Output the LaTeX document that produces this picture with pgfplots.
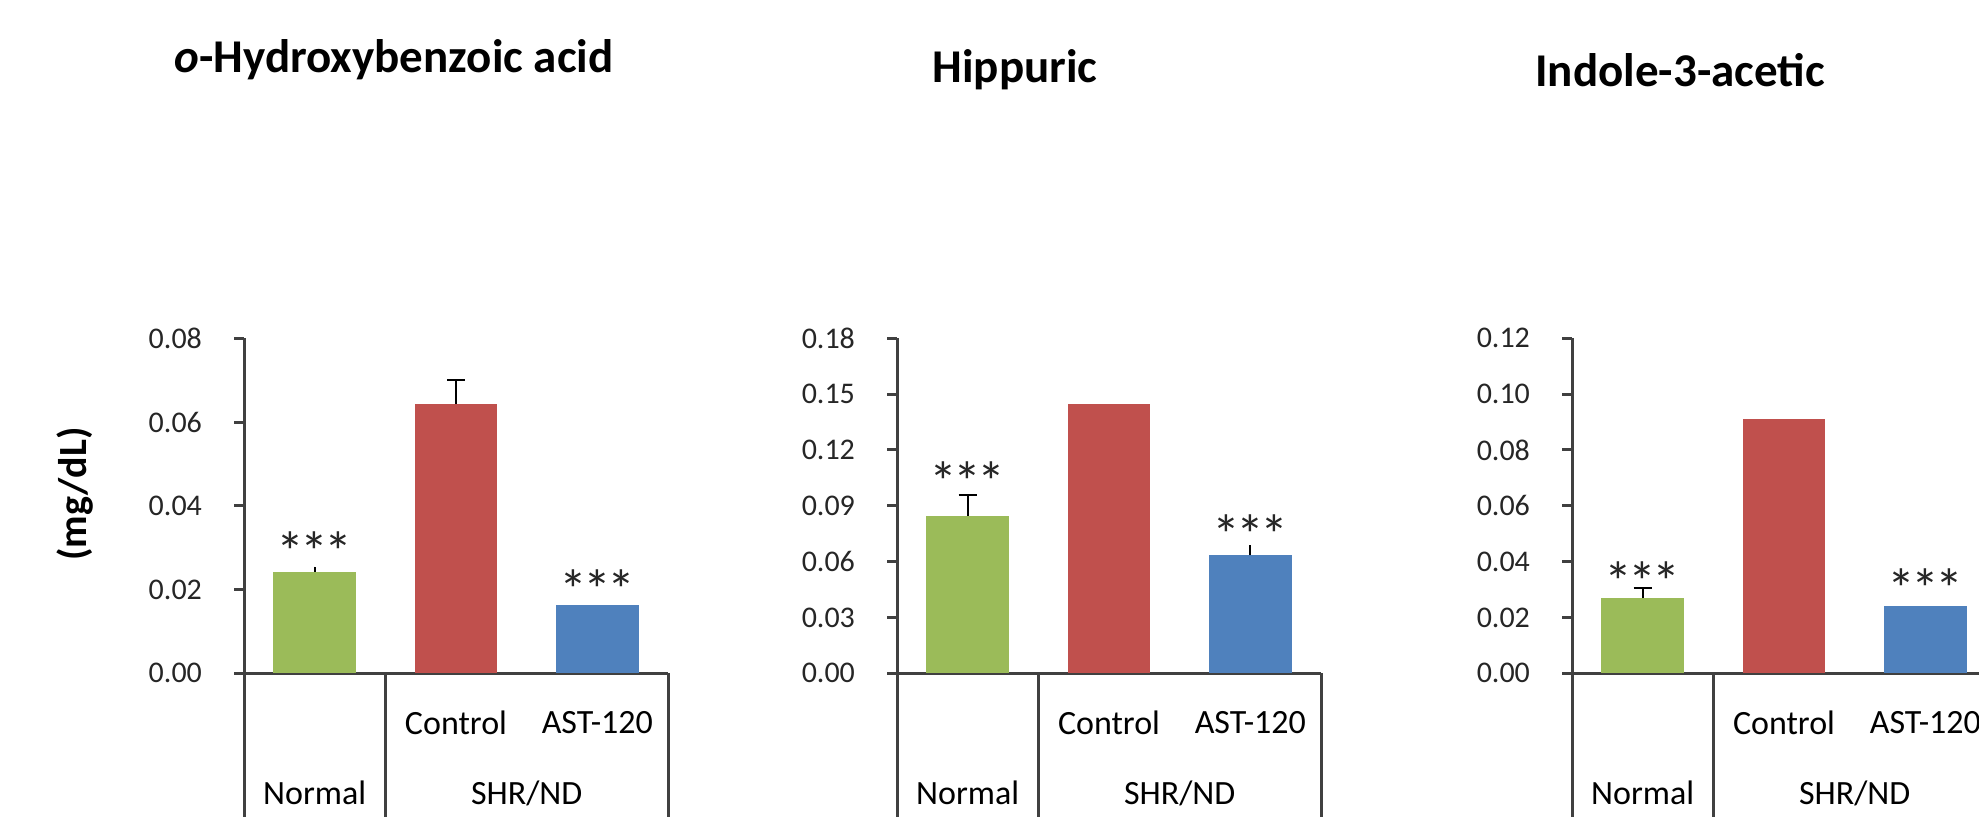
\documentclass[border=0pt]{standalone}
\usepackage{fontspec}
\setmainfont{Carlito}
\usepackage{pgfplots}
\pgfplotsset{compat=1.18}
\definecolor{cgreen}{HTML}{9BBB59}
\definecolor{cred}{HTML}{C0504D}
\definecolor{cblue}{HTML}{4F81BD}
\definecolor{axisgray}{HTML}{404040}
\newcommand{\tickfont}{\fontsize{15pt}{18pt}\selectfont}
\newcommand{\catfont}{\fontsize{17pt}{20pt}\selectfont}
\newcommand{\starfont}{\fontsize{28pt}{30pt}\selectfont}
\newcommand{\stars}{*\kern-2pt*\kern-2pt*}
\newcommand{\titlefont}{\fontsize{23.5pt}{28pt}\selectfont\bfseries}
\tikzset{boxline/.style={axisgray, line width=1.5pt}, starnode/.style={font=\starfont, text=black!85, yshift=-5.8pt}}
\pgfplotsset{
  panel/.style={
    scale only axis, width=212pt, height=167.5pt, anchor=south west,
    xmin=-0.5, xmax=2.5, ymin=0,
    axis x line=bottom, axis y line=left,
    axis line style={-, line width=1.5pt, color=axisgray},
    xtick=\empty, tick align=outside, major tick length=5pt,
    ytick style={line width=1.5pt, color=axisgray},
    scaled y ticks=false,
    /pgf/number format/assume math mode=true,
    yticklabel style={font=\tickfont, text=black!85, xshift=-12.5pt, /pgf/number format/fixed, /pgf/number format/fixed zerofill, /pgf/number format/precision=2},
    clip=false,
  },
  errcap/.style={error bars/.cd, y dir=plus, y explicit, error mark=|, error bar style={line width=1pt, black}, error mark options={line width=1pt, black, mark size=4.5pt}},
  errnocap/.style={error bars/.cd, y dir=plus, y explicit, error mark=none, error bar style={line width=1pt, black}},
  gbar/.style={ybar, bar shift=0pt, bar width=0.585, fill=cgreen, draw=none},
  rbar/.style={ybar, bar shift=0pt, bar width=0.585, fill=cred, draw=none},
  bbar/.style={ybar, bar shift=0pt, bar width=0.585, fill=cblue, draw=none},
}
\begin{document}
\begin{tikzpicture}
\useasboundingbox (0,0) rectangle (989.5pt,408.5pt);
\clip (0,0) rectangle (989.5pt,408.5pt);
\node[font=\titlefont] at (197pt,378.5pt) {\textit{o}-Hydroxybenzoic acid};
\node[font=\titlefont] at (507.5pt,373.5pt) {Hippuric};
\node[font=\titlefont] at (840pt,373.5pt) {Indole-3-acetic};
\node[font=\fontsize{20pt}{24pt}\selectfont\bfseries, rotate=90] at (37.5pt,161.5pt) {(mg/dL)};

% Panel 1
\begin{axis}[panel, at={(122pt,71.85pt)}, ymax=0.08, ytick={0,0.02,0.04,0.06,0.08}]
\addplot[gbar, errnocap] coordinates {(0,0.0243) +- (0,0.0012)};
\addplot[rbar, errcap] coordinates {(1,0.0644) +- (0,0.0056)};
\addplot[bbar] coordinates {(2,0.0162)};
\draw[boxline] (axis cs:-0.5,0) -- ++(0pt,-80pt);
\draw[boxline] (axis cs:0.5,0) -- ++(0pt,-80pt);
\draw[boxline] (axis cs:2.5,0) -- ++(0pt,-80pt);
\node[font=\catfont, yshift=-24.85pt] at (axis cs:1,0) {Control};
\node[font=\catfont, yshift=-24.85pt] at (axis cs:2,0) {AST-120};
\node[font=\catfont, yshift=-59.85pt] at (axis cs:0,0) {Normal};
\node[font=\catfont, yshift=-59.85pt] at (axis cs:1.5,0) {SHR/ND};
\node[starnode] at (axis cs:0,0.0318) {\stars};
\node[starnode] at (axis cs:2,0.0228) {\stars};
\end{axis}

% Panel 2
\begin{axis}[panel, at={(448.5pt,71.85pt)}, ymax=0.18, ytick={0,0.03,0.06,0.09,0.12,0.15,0.18}]
\addplot[gbar, errcap] coordinates {(0,0.0847) +- (0,0.0111)};
\addplot[rbar] coordinates {(1,0.1449)};
\addplot[bbar, errnocap] coordinates {(2,0.0634) +- (0,0.0055)};
\draw[boxline] (axis cs:-0.5,0) -- ++(0pt,-80pt);
\draw[boxline] (axis cs:0.5,0) -- ++(0pt,-80pt);
\draw[boxline] (axis cs:2.5,0) -- ++(0pt,-80pt);
\node[font=\catfont, yshift=-24.85pt] at (axis cs:1,0) {Control};
\node[font=\catfont, yshift=-24.85pt] at (axis cs:2,0) {AST-120};
\node[font=\catfont, yshift=-59.85pt] at (axis cs:0,0) {Normal};
\node[font=\catfont, yshift=-59.85pt] at (axis cs:1.5,0) {SHR/ND};
\node[starnode] at (axis cs:0,0.1092) {\stars};
\node[starnode] at (axis cs:2,0.0809) {\stars};
\end{axis}

% Panel 3
\begin{axis}[panel, at={(786pt,71.85pt)}, ymax=0.12, ytick={0,0.02,0.04,0.06,0.08,0.10,0.12}]
\addplot[gbar, errcap] coordinates {(0,0.0269) +- (0,0.0035)};
\addplot[rbar] coordinates {(1,0.0911)};
\addplot[bbar] coordinates {(2,0.0242)};
\draw[boxline] (axis cs:-0.5,0) -- ++(0pt,-80pt);
\draw[boxline] (axis cs:0.5,0) -- ++(0pt,-80pt);
\draw[boxline] (axis cs:2.5,0) -- ++(0pt,-80pt);
\node[font=\catfont, yshift=-24.85pt] at (axis cs:1,0) {Control};
\node[font=\catfont, yshift=-24.85pt] at (axis cs:2,0) {AST-120};
\node[font=\catfont, yshift=-59.85pt] at (axis cs:0,0) {Normal};
\node[font=\catfont, yshift=-59.85pt] at (axis cs:1.5,0) {SHR/ND};
\node[starnode] at (axis cs:0,0.0370) {\stars};
\node[starnode] at (axis cs:2,0.0346) {\stars};
\end{axis}
\end{tikzpicture}
\end{document}
